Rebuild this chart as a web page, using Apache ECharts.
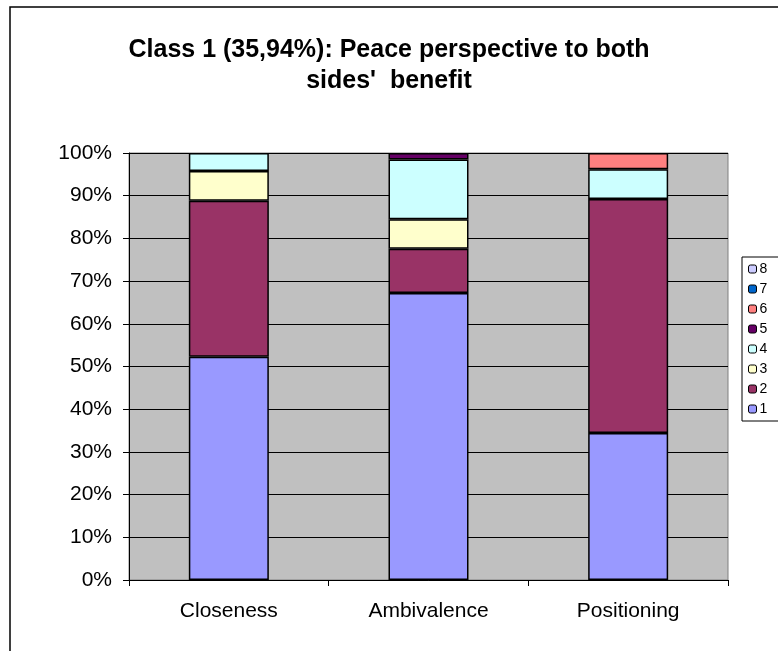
<!DOCTYPE html>
<html>
<head>
<meta charset="utf-8">
<script src="https://cdn.jsdelivr.net/npm/echarts@6/dist/echarts.min.js"></script>
<style>
html,body{margin:0;padding:0;background:#fff;}
#c{width:778px;height:651px;}
</style>
</head>
<body>
<div id="c"></div>
<script>
const categories = ['Closeness', 'Ambivalence', 'Positioning'];
const seriesNames = ['1', '2', '3', '4', '5', '6', '7', '8'];
const s1 = [52.3, 67.2, 34.4];
const s2 = [36.5, 10.4, 54.8];
const s3 = [7.0, 6.9, null];
const s4 = [4.2, 14.0, 7.0];
const s5 = [null, 1.5, null];
const s6 = [null, null, 3.8];
const s7 = [null, null, null];
const s8 = [null, null, null];
const seriesValues = [s1, s2, s3, s4, s5, s6, s7, s8];
const colors = ['#9999FF', '#993366', '#FFFFCC', '#CCFFFF', '#660066', '#FF8080', '#0066CC', '#CCCCFF'];
const yTicks = [0, 10, 20, 30, 40, 50, 60, 70, 80, 90, 100];

const FONT = '"Liberation Sans", Arial, sans-serif';
const chart = echarts.init(document.getElementById('c'));
chart.setOption({
  animation: false,
  textStyle: { fontFamily: FONT, color: '#000' },
  graphic: [{
    type: 'rect',
    shape: { x: 10, y: 7, width: 820, height: 700 },
    style: { fill: 'none', stroke: '#000', lineWidth: 1.5 },
    z: -10
  }],
  title: {
    text: "Class 1 (35,94%): Peace perspective to both\nsides'  benefit",
    left: 'center',
    top: 30,
    textStyle: { fontFamily: FONT, fontWeight: 'bold', fontSize: 25, color: '#000', lineHeight: 31 }
  },
  legend: {
    orient: 'vertical',
    left: 742,
    top: 257,
    data: seriesNames.slice().reverse(),
    itemWidth: 8,
    itemHeight: 8,
    itemGap: 6,
    padding: [5, 60, 5, 6],
    borderColor: '#000',
    borderWidth: 1,
    backgroundColor: '#fff',
    textStyle: { fontFamily: FONT, fontSize: 14, color: '#000', padding: [0, 0, 0, -2] },
    itemStyle: { borderColor: '#000', borderWidth: 1 }
  },
  grid: {
    left: 129, right: 50, top: 153, bottom: 71,
    show: true, backgroundColor: '#C0C0C0', borderColor: '#808080', borderWidth: 1
  },
  xAxis: {
    type: 'category',
    data: categories,
    axisLine: { show: true, lineStyle: { color: '#000', width: 1 } },
    axisTick: { show: true, length: 6, lineStyle: { color: '#000' } },
    axisLabel: { fontFamily: FONT, fontSize: 21, color: '#000', margin: 21 },
    splitLine: { show: false }
  },
  yAxis: {
    type: 'value',
    min: 0, max: 100, interval: 10,
    axisLine: { show: true, lineStyle: { color: '#000', width: 1 } },
    axisTick: { show: true, length: 6, lineStyle: { color: '#000' } },
    axisLabel: {
      fontFamily: FONT, fontSize: 21, color: '#000', margin: 17,
      formatter: v => (yTicks.indexOf(v) >= 0 ? v + '%' : '')
    },
    splitLine: { show: true, lineStyle: { color: '#000', width: 1 } }
  },
  series: seriesNames.map((n, i) => ({
    name: n,
    type: 'bar',
    stack: 'total',
    barWidth: 80,
    data: seriesValues[i],
    itemStyle: { color: colors[i], borderColor: '#000', borderWidth: 1.5 }
  }))
});
</script>
</body>
</html>
